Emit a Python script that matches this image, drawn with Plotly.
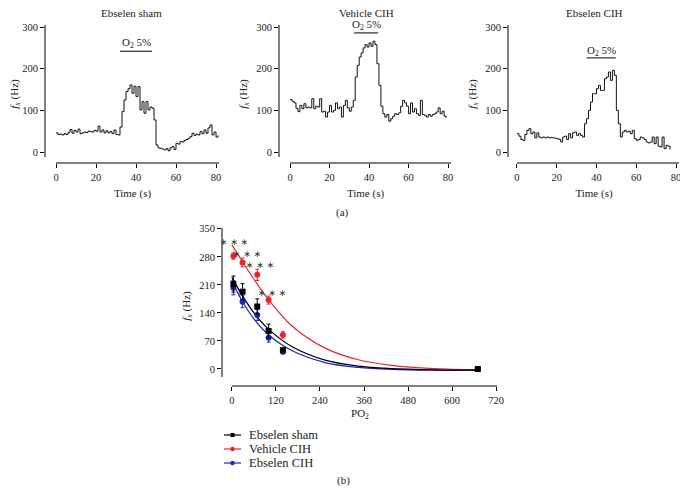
import plotly.graph_objects as go

# ---------------- data ----------------
# Top panels: step traces (time in s, frequency fx in Hz)
sham_t = list(range(0, 82))
sham_f = [46, 42, 43, 41, 44, 42, 47, 54, 45, 52, 48, 55, 44, 46, 48, 47, 50, 49, 48, 52,
          50, 62, 48, 53, 46, 51, 46, 49, 44, 53, 42, 41, 60, 97, 125, 145, 152, 161, 141, 158,
          133, 157, 101, 121, 93, 121, 101, 108, 105, 77, 17, 10, 9, 7, 5, 8, 3, 10, 13, 6,
          21, 19, 25, 24, 28, 30, 33, 37, 45, 40, 43, 41, 49, 44, 53, 45, 58, 65, 41, 48,
          36, 40]

veh_t = list(range(0, 80))
veh_f = [126, 122, 118, 105, 97, 112, 104, 116, 106, 108, 106, 128, 104, 110, 108, 128, 96, 98, 84, 96,
         112, 96, 100, 118, 104, 108, 84, 112, 124, 106, 98, 108, 124, 180, 208, 228, 238, 250, 258, 252,
         262, 254, 266, 258, 212, 160, 110, 92, 84, 90, 74, 80, 86, 92, 90, 94, 110, 124, 118, 110,
         92, 118, 96, 104, 92, 88, 124, 90, 88, 84, 90, 86, 90, 92, 96, 106, 92, 98, 86, 82]

cih_t = list(range(0, 78))
cih_f = [44, 38, 30, 28, 42, 52, 56, 44, 48, 34, 46, 36, 34, 36, 34, 36, 34, 35, 34, 33,
         32, 30, 24, 36, 38, 30, 44, 34, 46, 48, 40, 44, 40, 36, 68, 80, 100, 120, 140, 140,
         152, 160, 148, 148, 176, 180, 192, 172, 196, 184, 100, 68, 36, 48, 52, 48, 50, 44, 52, 32,
         28, 30, 36, 34, 30, 24, 22, 24, 36, 20, 36, 14, 12, 36, 8, 16, 14, 6]

panel_titles = ["Ebselen sham", "Vehicle CIH", "Ebselen CIH"]
o2_start = [32, 32.4, 35]
o2_end = [48, 44.6, 49.7]
o2_bar_y = [242, 286, 226]

# Bottom panel: PO2 vs fx (mean ± error)
po2 = [4, 29, 69, 100, 139, 670]
sham_mean = [212, 193, 156, 95, 47, 0]
sham_err = [20, 20, 19, 17, 5, 3]
veh_mean = [282, 266, 235, 172, 85, 0]
veh_err = [8, 11, 14, 10, 8, 3]
cih_mean = [203, 168, 135, 78, 43, 0]
cih_err = [18, 15, 14, 11, 5, 3]

# fitted curves
fit_x = [0, 26, 60, 99, 163, 254, 344, 435, 550, 670]
sham_fit = [228, 187, 140, 100, 56, 22, 7, 1, -2, -3]
veh_fit = [310, 272, 224, 174, 108, 52, 23, 9, 1, -2]
cih_fit = [220, 173, 125, 86, 46, 16, 4, -1, -3, -3]

star_x = [5.5, 42, 76, 108]
star_y = [318, 289, 260, 191]

x_ticks_top = [0, 20, 40, 60, 80]
y_ticks_top = [0, 100, 200, 300]
x_ticks_bot = [0, 120, 240, 360, 480, 600, 720]
y_ticks_bot = [0, 70, 140, 210, 280, 350]

legend_names = ["Ebselen sham", "Vehicle CIH", "Ebselen CIH"]

# ---------------- figure ----------------
# the page adds an 8px body margin, so the figure is placed at (8, 8)
OFF = 8
W, H = 680, 485
FONT = "Liberation Serif, Times New Roman, serif"
BLACK = "#000000"
RED = "#e8262a"
BLUE = "#2424b8"
TXT = "#222222"
FS = 11


def px2x(p):
    return (p - OFF) / W


def px2y(p):
    return 1 - (p - OFF) / H


fig = go.Figure()

top_dom_x = [(45, 220), (279, 452), (508, 680)]
top_ranges = [(-5.5, 82), (-5.6, 82), (-4.5, 82)]
top_dom_y = (px2y(163), px2y(25))
title_cx = [131, 366, 594]
o2_text_py = [43, 25, 51]
series = [(sham_t, sham_f), (veh_t, veh_f), (cih_t, cih_f)]

axis_common = dict(showgrid=False, zeroline=False, showline=False, ticks="outside",
                   ticklen=4, tickwidth=1, tickcolor=BLACK, automargin=False,
                   tickfont=dict(family=FONT, size=10.5, color=TXT))

for i in range(3):
    xa = "x" if i == 0 else f"x{i+1}"
    ya = "y" if i == 0 else f"y{i+1}"
    t, f = series[i]
    fig.add_trace(go.Scatter(x=t, y=f, mode="lines", line=dict(color="#111", width=1, shape="hv"),
                             xaxis=xa, yaxis=ya, showlegend=False, hoverinfo="skip"))
    xkey = "xaxis" if i == 0 else f"xaxis{i+1}"
    ykey = "yaxis" if i == 0 else f"yaxis{i+1}"
    fig.layout[xkey] = dict(axis_common, domain=[px2x(top_dom_x[i][0]), px2x(top_dom_x[i][1])],
                            range=list(top_ranges[i]), tickvals=x_ticks_top, anchor=ya,
                            title=dict(text="Time (s)", font=dict(family=FONT, size=FS, color=TXT),
                                       standoff=7))
    fig.layout[ykey] = dict(axis_common, domain=list(top_dom_y), range=[-26.4, 305],
                            tickvals=y_ticks_top, anchor=xa,
                            title=dict(text="<i>f</i><sub><i>x</i></sub> (Hz)",
                                       font=dict(family=FONT, size=FS, color=TXT), standoff=6))
    # detached axis lines
    fig.add_shape(type="line", xref=f"{xa} domain", yref=ya, x0=0, x1=0, y0=-12, y1=305,
                  line=dict(color=BLACK, width=1))
    fig.add_shape(type="line", xref=xa, yref=f"{ya} domain", x0=0, x1=81.5, y0=0, y1=0,
                  line=dict(color=BLACK, width=1))
    # O2 bar
    fig.add_shape(type="line", xref=xa, yref=ya, x0=o2_start[i], x1=o2_end[i],
                  y0=o2_bar_y[i], y1=o2_bar_y[i], line=dict(color=BLACK, width=1))
    fig.add_annotation(xref=xa, yref="paper", x=(o2_start[i] + o2_end[i]) / 2, y=px2y(o2_text_py[i]),
                       xanchor="center", yanchor="middle",
                       text="O<sub>2</sub> 5%", showarrow=False,
                       font=dict(family=FONT, size=FS, color=TXT))
    # panel title
    fig.add_annotation(xref="paper", yref="paper", x=px2x(title_cx[i]), y=px2y(13),
                       xanchor="center", yanchor="middle",
                       text=panel_titles[i], showarrow=False,
                       font=dict(family=FONT, size=FS, color=TXT))

# bottom panel
xa, ya = "x4", "y4"
fig.layout["xaxis4"] = dict(axis_common, domain=[px2x(222), px2x(498)], range=[-27, 725],
                            tickvals=x_ticks_bot, anchor=ya,
                            title=dict(text="PO<sub>2</sub>", font=dict(family=FONT, size=FS, color=TXT),
                                       standoff=4))
fig.layout["yaxis4"] = dict(axis_common, domain=[px2y(386), px2y(226)], range=[-42.5, 357],
                            tickvals=y_ticks_bot, anchor=xa,
                            title=dict(text="<i>f</i><sub><i>x</i></sub> (Hz)",
                                       font=dict(family=FONT, size=FS, color=TXT), standoff=6))
fig.add_shape(type="line", xref="x4 domain", yref=ya, x0=0, x1=0, y0=-20, y1=352,
              line=dict(color=BLACK, width=1))
fig.add_shape(type="line", xref=xa, yref="y4 domain", x0=0, x1=722, y0=0, y1=0,
              line=dict(color=BLACK, width=1))

groups = {
    "sham": (BLACK, "square", sham_mean, sham_err, sham_fit),
    "veh": (RED, "circle", veh_mean, veh_err, veh_fit),
    "cih": (BLUE, "circle", cih_mean, cih_err, cih_fit),
}
for key in ["veh", "cih", "sham"]:
    col, sym, mean, err, fit = groups[key]
    fig.add_trace(go.Scatter(x=fit_x, y=fit, mode="lines", line=dict(color=col, width=1.2, shape="spline"),
                             xaxis=xa, yaxis=ya, showlegend=False, hoverinfo="skip"))
for key in ["veh", "cih", "sham"]:
    col, sym, mean, err, fit = groups[key]
    fig.add_trace(go.Scatter(x=po2, y=mean, mode="markers",
                             marker=dict(color=col, symbol=sym, size=6),
                             error_y=dict(type="data", array=err, color=col, thickness=1, width=2),
                             xaxis=xa, yaxis=ya, showlegend=False))

for sx, sy in zip(star_x, star_y):
    fig.add_annotation(xref=xa, yref=ya, x=sx, y=sy, text="∗ ∗ ∗", showarrow=False,
                       xanchor="center", yanchor="middle", height=11,
                       font=dict(family="DejaVu Sans", size=9, color="#333"))

# hand-made legend (compact spacing like the reference)
leg_rows = [435, 449, 463]
leg_cols = [BLACK, RED, BLUE]
for name, col, row in zip(legend_names, leg_cols, leg_rows):
    fig.add_shape(type="line", xref="paper", yref="paper", x0=px2x(224), x1=px2x(241),
                  y0=px2y(row), y1=px2y(row), line=dict(color=col, width=1.2))
    if col == BLACK:
        fig.add_shape(type="rect", xref="paper", yref="paper", x0=px2x(230.5), x1=px2x(234.5),
                      y0=px2y(row + 2), y1=px2y(row - 2), line=dict(color=col, width=0), fillcolor=col)
    else:
        fig.add_shape(type="circle", xref="paper", yref="paper", x0=px2x(230.3), x1=px2x(234.7),
                      y0=px2y(row + 2.2), y1=px2y(row - 2.2), line=dict(color=col, width=0), fillcolor=col)
    fig.add_annotation(xref="paper", yref="paper", x=px2x(247), y=px2y(row), xanchor="left",
                       yanchor="middle", text=name, showarrow=False,
                       font=dict(family=FONT, size=12.5, color=TXT))

fig.add_annotation(xref="paper", yref="paper", x=px2x(342), y=px2y(212), text="(a)", showarrow=False,
                   xanchor="center", yanchor="middle", font=dict(family=FONT, size=FS, color=TXT))
fig.add_annotation(xref="paper", yref="paper", x=px2x(343), y=px2y(480), text="(b)", showarrow=False,
                   xanchor="center", yanchor="middle", font=dict(family=FONT, size=FS, color=TXT))

fig.update_layout(
    width=W, height=H, margin=dict(l=0, r=0, t=0, b=0),
    paper_bgcolor="white", plot_bgcolor="white",
    font=dict(family=FONT, size=FS, color=TXT),
    showlegend=False,
)

fig.write_html("out.html")
